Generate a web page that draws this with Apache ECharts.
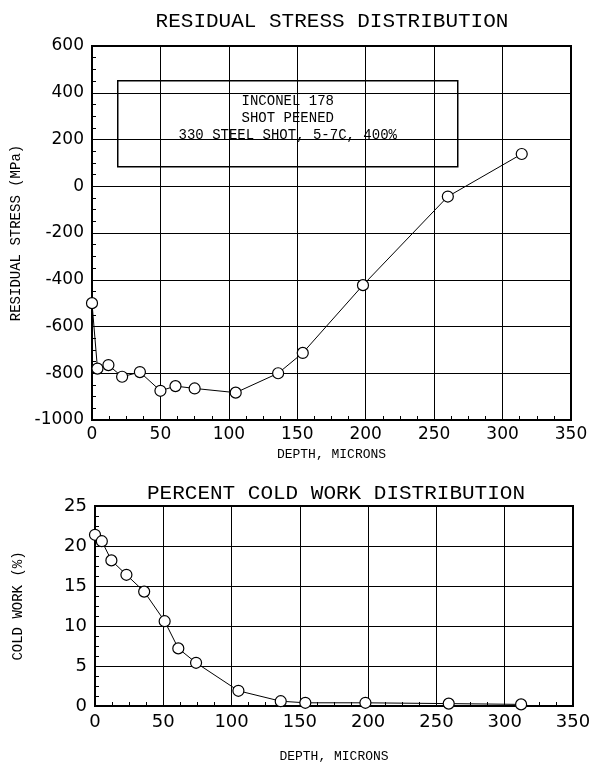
<!DOCTYPE html>
<html><head><meta charset="utf-8">
<script src="https://cdn.jsdelivr.net/npm/echarts@6/dist/echarts.min.js"></script>
<style>html,body{margin:0;padding:0;background:#fff}#c{width:596px;height:769px}</style>
</head><body><div id="c"></div>
<script>
// Residual stress distribution
const stressDepth = [0, 4, 12, 22, 35, 50, 61, 75, 105, 136, 154, 198, 260, 314];
const stressValue = [-500, -780, -765, -815, -795, -875, -855, -865, -883, -800, -713, -423, -44, 138];
// Percent cold work distribution
const coldDepth = [0, 5, 12, 23, 36, 51, 61, 74, 105, 136, 154, 198, 259, 312];
const coldValue = [21.4, 20.6, 18.2, 16.4, 14.3, 10.6, 7.2, 5.4, 1.9, 0.6, 0.4, 0.4, 0.3, 0.2];
const titles = ['RESIDUAL STRESS DISTRIBUTION', 'PERCENT COLD WORK DISTRIBUTION'];
const boxLines = ['INCONEL 178', 'SHOT PEENED', '330 STEEL SHOT, 5-7C, 400%'];
const xName = 'DEPTH, MICRONS';
const yNames = ['RESIDUAL STRESS (MPa)', 'COLD WORK (%)'];

const MONO = '"Liberation Mono", "DejaVu Sans Mono", monospace';
const SANS = '"DejaVu Sans", sans-serif';

function xAxis(gi, fs, margin, gap) {
  return {
    type: 'value', gridIndex: gi, min: 0, max: 350, interval: 50,
    axisLine: {show: true, onZero: false, lineStyle: {color: '#000', width: 2}},
    axisTick: {show: true, inside: true, length: 0},
    minorTick: {show: true, splitNumber: 4, length: 4, lineStyle: {color: '#000', width: 1}},
    splitLine: {show: true, lineStyle: {color: '#000', width: 1}},
    axisLabel: {color: '#000', fontFamily: SANS, fontSize: fs, margin: margin, formatter: v => String(v)},
    name: xName, nameLocation: 'middle', nameGap: gap,
    nameTextStyle: {color: '#000', fontFamily: MONO, fontSize: 13}
  };
}
function yAxis(gi, min, max, interval, fs, name, gap) {
  return {
    type: 'value', gridIndex: gi, min: min, max: max, interval: interval,
    axisLine: {show: true, onZero: false, lineStyle: {color: '#000', width: 2}},
    axisTick: {show: true, inside: true, length: 0},
    minorTick: {show: true, splitNumber: 4, length: 4, lineStyle: {color: '#000', width: 1}},
    splitLine: {show: true, lineStyle: {color: '#000', width: 1}},
    axisLabel: {color: '#000', fontFamily: SANS, fontSize: fs, margin: 8, formatter: v => String(v)},
    name: name, nameLocation: 'middle', nameGap: gap, nameRotate: 90,
    nameTextStyle: {color: '#000', fontFamily: MONO, fontSize: 14}
  };
}
function lineSeries(xi, xs, ys) {
  return {
    type: 'line', xAxisIndex: xi, yAxisIndex: xi,
    data: xs.map((x, i) => [x, ys[i]]),
    symbol: 'circle', symbolSize: 11, showSymbol: true,
    lineStyle: {color: '#000', width: 1},
    itemStyle: {color: '#fff', borderColor: '#000', borderWidth: 1.2},
    emphasis: {disabled: true}, animation: false, z: 5
  };
}

const chart = echarts.init(document.getElementById('c'), null, {renderer: 'canvas'});
chart.setOption({
  backgroundColor: '#fff',
  animation: false,
  title: [
    {text: titles[0], left: 327, top: 6, textAlign: 'center',
     textStyle: {fontFamily: MONO, fontSize: 21, fontWeight: 'normal', color: '#000'}},
    {text: titles[1], left: 331, top: 478, textAlign: 'center',
     textStyle: {fontFamily: MONO, fontSize: 21, fontWeight: 'normal', color: '#000'}}
  ],
  grid: [
    {left: 92, top: 46, width: 479, height: 374, show: true, borderColor: '#000', borderWidth: 2, backgroundColor: '#fff'},
    {left: 95, top: 506, width: 478, height: 200, show: true, borderColor: '#000', borderWidth: 2, backgroundColor: '#fff'}
  ],
  xAxis: [xAxis(0, 17, 6, 28), xAxis(1, 18, 7, 44)],
  yAxis: [
    yAxis(0, -1000, 600, 200, 17, yNames[0], 66),
    yAxis(1, 0, 25, 5, 18, yNames[1], 70)
  ],
  series: [
    lineSeries(0, stressDepth, stressValue),
    lineSeries(1, coldDepth, coldValue)
  ],
  graphic: [
    {type: 'group', left: 117, top: 80, z: 100, children: [
      {type: 'rect', shape: {x: 0, y: 0, width: 340, height: 86},
       style: {fill: '#fff', stroke: '#000', lineWidth: 1.5}},
      {type: 'text', x: 170, y: 21, style: {text: boxLines[0], fill: '#000', font: '14px ' + MONO, textAlign: 'center', textVerticalAlign: 'middle'}},
      {type: 'text', x: 170, y: 38, style: {text: boxLines[1], fill: '#000', font: '14px ' + MONO, textAlign: 'center', textVerticalAlign: 'middle'}},
      {type: 'text', x: 170, y: 55, style: {text: boxLines[2], fill: '#000', font: '14px ' + MONO, textAlign: 'center', textVerticalAlign: 'middle'}}
    ]}
  ]
});
</script>
</body></html>
